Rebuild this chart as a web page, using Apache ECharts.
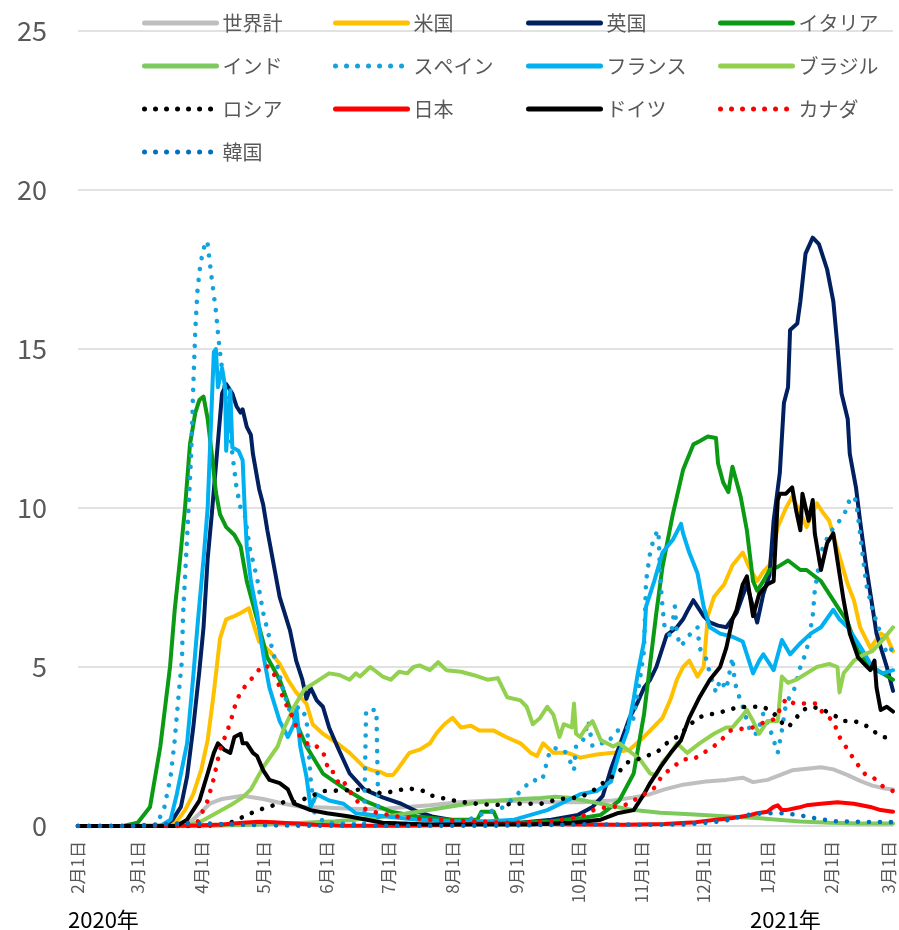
<!DOCTYPE html>
<html>
<head>
<meta charset="utf-8">
<script src="https://cdn.jsdelivr.net/npm/echarts@6/dist/echarts.min.js"></script>
<style>
  html, body { margin: 0; padding: 0; background: #fff; }
  #main { width: 899px; height: 930px; }
</style>
</head>
<body>
<div id="main"></div>
<script>
// x = days since 2020-02-01
const tickDays = [0, 29, 60, 90, 121, 151, 182, 213, 243, 274, 304, 335, 366, 394];
const tickLabels = ['2月1日', '3月1日', '4月1日', '5月1日', '6月1日', '7月1日', '8月1日', '9月1日', '10月1日', '11月1日', '12月1日', '1月1日', '2月1日', '3月1日'];
const yearLabels = ['2020年', '2021年'];

const world = [[0,0],[30,0.01],[45,0.05],[55,0.15],[60,0.45],[64,0.7],[70,0.85],[80,0.95],[90,0.85],[100,0.7],[109,0.6],[120,0.58],[130,0.55],[140,0.53],[150,0.55],[160,0.6],[171,0.65],[185,0.75],[200,0.8],[215,0.78],[230,0.75],[245,0.75],[260,0.8],[270,0.9],[278,1.0],[285,1.15],[294,1.3],[305,1.4],[315,1.45],[323,1.52],[328,1.38],[335,1.45],[341,1.6],[347,1.75],[354,1.8],[361,1.85],[367,1.78],[374,1.6],[380,1.42],[386,1.27],[392,1.18],[396,1.15]];
const usa = [[0,0],[40,0],[48,0.15],[52,0.5],[56,1.0],[60,1.8],[63,2.7],[66,4.2],[69,5.9],[72,6.5],[76,6.6],[79,6.7],[83,6.85],[85,6.4],[88,5.8],[93,5.5],[98,5.1],[102,4.6],[106,4.2],[111,3.85],[114,3.2],[119,2.9],[126,2.6],[132,2.3],[139,1.85],[143,1.75],[147,1.7],[150,1.6],[153,1.6],[156,1.85],[161,2.3],[166,2.4],[171,2.6],[174,2.9],[178,3.2],[182,3.4],[186,3.1],[191,3.15],[195,3.0],[202,3.0],[208,2.8],[215,2.6],[220,2.3],[223,2.2],[226,2.6],[231,2.3],[238,2.3],[244,2.15],[252,2.25],[260,2.3],[268,2.4],[275,2.8],[281,3.2],[284,3.4],[288,4.0],[291,4.6],[294,5.0],[297,5.2],[301,4.7],[304,5.0],[306,6.6],[309,7.2],[314,7.6],[318,8.2],[323,8.6],[326,8.15],[330,7.7],[333,8.0],[336,8.2],[340,9.4],[344,10.0],[347,10.35],[351,9.85],[354,9.4],[359,10.15],[362,9.85],[365,9.6],[369,8.7],[374,7.6],[377,7.1],[380,6.25],[385,5.6],[390,6.05],[393,5.95],[396,5.5]];
const uk = [[0,0],[42,0],[46,0.2],[50,0.6],[53,1.55],[56,3.1],[59,4.9],[61,6.25],[63,8.4],[65,9.8],[67.5,11.7],[70,13.6],[72,13.9],[75,13.6],[77,13.2],[79,13.0],[80,13.1],[82,12.55],[84,12.3],[85,11.7],[88,10.6],[90,10.1],[92,9.3],[95,8.25],[98,7.2],[103,6.15],[106,5.2],[109,4.6],[111,4.0],[113,4.35],[116,3.95],[119,3.75],[122,3.1],[126,2.5],[132,1.65],[139,1.15],[148,0.9],[157,0.7],[165,0.45],[172,0.3],[185,0.15],[200,0.1],[215,0.1],[230,0.2],[243,0.35],[250,0.6],[255,0.95],[259,1.8],[263,2.5],[268,3.4],[272,3.9],[275,4.35],[278,4.6],[281,5.0],[286,6.0],[291,6.25],[294,6.5],[296,6.75],[299,7.1],[301,6.9],[304,6.6],[307,6.4],[311,6.3],[315,6.25],[320,6.7],[325,7.6],[330,6.4],[333,7.3],[336,7.9],[338,9.6],[341,11.1],[343,13.3],[345,13.8],[346,15.6],[349.5,15.8],[351,16.5],[353.5,18.0],[357,18.5],[360,18.3],[364,17.5],[367,16.5],[369,15.1],[371,13.6],[374,12.8],[375,11.7],[378,10.65],[380,9.6],[383,8.15],[388,6.05],[393,5.0],[396,4.25]];
const italy = [[0,0],[22,0],[29,0.1],[35,0.6],[40,2.5],[44.7,5.0],[47,6.8],[49.6,8.4],[52,10.0],[54.4,12.0],[57,13.0],[59,13.4],[61,13.5],[63,12.8],[65,11.7],[67,10.5],[69,9.8],[72,9.4],[76,9.15],[79,8.8],[82,7.7],[87,6.5],[92,5.3],[98,4.6],[103,3.7],[111,2.5],[119,1.65],[129,1.2],[139,0.8],[152,0.45],[165,0.3],[180,0.2],[194,0.2],[196,0.45],[202,0.45],[204,0.15],[215,0.1],[230,0.15],[245,0.25],[254,0.35],[263,0.8],[270,1.65],[275,3.5],[278,5.1],[281,6.7],[284,8.15],[289,9.8],[294,11.2],[299,12.0],[302,12.1],[306,12.25],[310,12.2],[311,11.4],[313.5,10.8],[316,10.5],[318,11.3],[322,10.35],[325,9.3],[328,7.7],[330,7.4],[333,7.7],[336,8.05],[340,8.15],[345,8.35],[351,8.05],[354,8.05],[361,7.7],[365,7.3],[369,6.9],[374,6.4],[379,5.5],[385,5.0],[391,4.8],[396,4.6]];
const india = [[0,0],[50,0],[65,0.01],[80,0.03],[95,0.06],[110,0.1],[125,0.15],[135,0.2],[140,0.25],[147,0.28],[155,0.35],[165,0.45],[175,0.55],[185,0.65],[195,0.75],[205,0.8],[215,0.85],[225,0.88],[232,0.92],[240,0.88],[250,0.75],[260,0.62],[270,0.5],[283,0.42],[295,0.38],[310,0.32],[320,0.28],[330,0.25],[340,0.2],[351,0.14],[365,0.1],[380,0.08],[396,0.08]];
const spain = [[0,0],[38,0],[42,0.6],[45,1.55],[47,2.7],[49,4.2],[50.5,5.2],[51,6.6],[52,7.8],[53.5,9.7],[55,11.7],[56,13.8],[57,15.6],[58,16.8],[59.5,17.7],[62,18.4],[63,18.3],[65,17.2],[67,16.2],[68,15.5],[69,14.9],[70.5,14.1],[72,13.4],[75,11.7],[77,10.65],[79,10.0],[81,9.8],[83.6,8.7],[87,7.8],[90,6.7],[95,5.4],[97,5.0],[100,4.2],[103,3.6],[106,3.7],[108,3.75],[111,3.4],[113,1.5],[115,0.4],[120,0.1],[139,0.05],[140,3.65],[145,3.65],[146,0.1],[170,0.05],[185,0.1],[192,0.25],[199,0.45],[203,0.5],[207,0.6],[212,0.9],[215,1.1],[219,1.35],[221,1.35],[224,1.6],[226,1.55],[229,2.3],[231,2.45],[236,2.4],[238,2.2],[241,1.75],[242,2.5],[245,2.6],[248,3.3],[250,2.5],[254,2.6],[257,2.6],[262,3.0],[266,3.0],[270,3.4],[273,4.6],[275,5.5],[276,7.7],[278,8.6],[280,9.1],[282,9.3],[283,7.7],[284,6.9],[285,6.25],[288,5.95],[290,6.9],[291,6.0],[293,5.65],[297,6.0],[301,6.25],[302,5.6],[305,5.3],[307,4.8],[310,4.2],[312,4.6],[315,4.3],[318,5.3],[319,4.6],[320,4.3],[323,3.75],[327,2.9],[330,2.9],[333,3.55],[336,3.1],[338,2.7],[340,2.3],[342,3.0],[344,3.85],[348,4.3],[351,5.0],[354,5.5],[357,6.6],[358,7.4],[361,8.6],[365,9.2],[370,9.6],[374,10.0],[375,10.35],[378,10.25],[380,9.2],[383,7.6],[386,6.8],[390,6.05],[393,5.4],[396,5.6]];
const france = [[0,0],[40,0],[45,0.2],[48,1.0],[53,2.6],[56,4.7],[58,6.25],[61,8.4],[63,10.0],[65,13.3],[66,14.9],[67,15.0],[68,13.8],[70,14.4],[71.5,13.8],[72,11.8],[74,13.7],[75,11.9],[78,11.8],[80,11.5],[81,10.0],[82,8.8],[84,7.7],[87,6.7],[90,5.4],[93,4.35],[98,3.3],[102,2.8],[105,3.2],[106,3.75],[108,2.5],[111,1.55],[113,0.6],[116,1.0],[122,0.8],[129,0.7],[135,0.4],[150,0.3],[165,0.2],[180,0.15],[200,0.15],[212,0.2],[228,0.5],[244,1.0],[252,1.1],[259,1.4],[263,2.3],[267,3.0],[270,4.0],[272,4.8],[275,5.8],[276,6.9],[280,7.7],[284,8.6],[289,9.0],[293,9.5],[294,9.2],[297,8.6],[301,7.95],[304,6.9],[307,6.25],[312,6.05],[318,5.95],[323,5.8],[328,4.8],[331,5.2],[333,5.4],[338,4.9],[342,5.85],[346,5.4],[351,5.75],[356,6.05],[361,6.25],[367,6.8],[370,6.5],[374,6.25],[380,5.65],[386,5.0],[391,4.8],[396,4.9]];
const brazil = [[0,0],[50,0],[55,0.05],[60,0.15],[67,0.4],[74,0.65],[80,0.9],[84,1.15],[90,1.85],[97,2.5],[100,3.05],[105,3.75],[110,4.3],[116,4.55],[122,4.8],[127,4.75],[132,4.6],[135,4.8],[137,4.7],[142,5.0],[148,4.7],[152,4.6],[156,4.85],[160,4.8],[163,5.0],[166,5.05],[171,4.9],[175,5.15],[179,4.9],[186,4.85],[192,4.75],[199,4.6],[204,4.65],[208.5,4.05],[215,3.95],[218,3.75],[221,3.2],[224.5,3.4],[228,3.75],[231,3.5],[234,2.8],[236,3.2],[240,3.1],[241,3.85],[242,2.9],[244,2.8],[247,3.1],[250,3.3],[254,2.7],[260,2.5],[263,2.6],[268,2.35],[273,2.1],[278,1.65],[281,1.6],[284,2.0],[288,2.3],[291,2.6],[296,2.3],[302,2.6],[309,2.9],[315,3.1],[318,3.1],[322,3.4],[325,3.65],[328,3.3],[331,2.9],[335,3.3],[340,3.3],[342,4.7],[345,4.5],[349,4.6],[354,4.8],[359,5.0],[365,5.1],[369,5.0],[370,4.2],[372,4.8],[377,5.2],[382,5.4],[386,5.5],[391,5.85],[396,6.25]];
const russia = [[0,0],[60,0],[70,0.05],[74,0.1],[79,0.25],[84,0.4],[90,0.55],[100,0.75],[106,0.75],[112,0.9],[119,1.1],[129,1.12],[139,1.15],[148,1.02],[155,1.12],[161,1.18],[168,1.1],[171,0.97],[181,0.82],[190,0.72],[202,0.66],[213,0.7],[225,0.7],[234,0.85],[244,0.9],[250,1.1],[257,1.45],[262,1.65],[267,2.0],[272,2.1],[276,2.2],[281,2.3],[286,2.6],[291,2.8],[296,3.1],[301,3.4],[306,3.5],[311,3.55],[316,3.65],[320,3.72],[325,3.75],[333,3.75],[338,3.55],[341,3.3],[345,3.1],[349,3.4],[352,3.65],[357,3.75],[362,3.65],[367,3.5],[372,3.3],[377,3.3],[382,3.2],[386,3.0],[391,2.8],[396,2.75]];
const japan = [[0,0],[40,0],[50,0.01],[60,0.02],[70,0.05],[80,0.1],[88,0.13],[95,0.12],[105,0.08],[115,0.04],[130,0.01],[160,0.01],[180,0.03],[195,0.07],[210,0.08],[225,0.06],[245,0.05],[265,0.04],[285,0.06],[300,0.12],[310,0.2],[318,0.25],[325,0.32],[330,0.4],[335,0.45],[338,0.6],[340,0.65],[342,0.5],[344,0.5],[350,0.58],[354,0.65],[361,0.7],[369,0.75],[377,0.7],[385,0.6],[390,0.5],[396,0.45]];
const germany = [[0,0],[48,0],[53,0.2],[59,0.8],[63,1.65],[66,2.3],[68,2.6],[71,2.4],[74,2.3],[76,2.8],[79,2.9],[80,2.6],[82,2.6],[85,2.3],[87,2.2],[90,1.75],[93,1.45],[98,1.35],[102,1.15],[105,0.7],[113,0.5],[121,0.4],[132,0.3],[148,0.1],[170,0.05],[220,0.05],[240,0.1],[254,0.2],[262,0.4],[270,0.5],[275,1.0],[278,1.35],[283,1.85],[288,2.3],[293,2.7],[297,3.4],[302,4.05],[307,4.6],[312,5.0],[315,5.6],[318,6.5],[320,6.8],[323,7.6],[325,7.85],[328,6.6],[331,7.3],[335,7.6],[338,7.7],[340,10.25],[341,10.45],[344,10.45],[347,10.65],[349,9.9],[351,9.3],[352,10.45],[355,9.6],[357,10.25],[358,9.2],[361,8.05],[364,8.9],[367,9.2],[369,8.35],[372,7.1],[375,6.05],[379,5.3],[382,5.1],[385,4.9],[387,5.2],[388,4.35],[390,3.65],[393,3.75],[396,3.6]];
const canada = [[0,0],[50,0],[58,0.1],[63,0.8],[66,1.5],[69,2.4],[72,2.9],[74,3.25],[77,3.95],[80,4.3],[84,4.6],[87,4.85],[90,5.05],[93,5.0],[95,4.8],[97,4.55],[100,3.95],[103,3.6],[105,3.3],[108,2.8],[113,2.5],[116,2.5],[119,2.35],[122,1.7],[124,1.7],[127,1.3],[129,1.4],[134,0.9],[139,0.55],[145,0.42],[155,0.3],[170,0.2],[190,0.15],[210,0.1],[230,0.15],[244,0.28],[252,0.55],[260,0.6],[267,0.68],[270,0.8],[275,1.0],[280,1.2],[284,1.6],[289,1.85],[294,2.1],[299,2.1],[304,2.3],[311,2.6],[317,3.0],[322,3.05],[328,3.1],[333,3.25],[338,3.35],[341,3.65],[344,4.0],[348,3.85],[354,3.85],[359,3.85],[362,3.55],[367,3.3],[370,2.8],[374,2.4],[377,2.1],[382,1.65],[386,1.55],[391,1.25],[396,1.1]];
const korea = [[0,0],[25,0],[30,0.02],[40,0.05],[50,0.08],[60,0.09],[70,0.06],[85,0.03],[110,0.01],[150,0.01],[200,0.01],[225,0.03],[245,0.05],[275,0.04],[295,0.05],[305,0.1],[312,0.15],[317,0.2],[322,0.3],[328,0.38],[335,0.4],[344,0.4],[350,0.34],[354,0.3],[360,0.22],[368,0.15],[380,0.13],[396,0.12]];

const FONT = '"Noto Sans CJK JP", "Noto Sans", sans-serif';

// name, data, colour, dotted
const seriesDefs = [
    ['世界計', world, '#BFBFBF', false],
    ['米国', usa, '#FFC000', false],
    ['英国', uk, '#002060', false],
    ['イタリア', italy, '#0A9A14', false],
    ['インド', india, '#7CC95E', false],
    ['スペイン', spain, '#12A2DE', true],
    ['フランス', france, '#00B0F0', false],
    ['ブラジル', brazil, '#92D050', false],
    ['ロシア', russia, '#000000', true],
    ['日本', japan, '#FF0000', false],
    ['ドイツ', germany, '#000000', false],
    ['カナダ', canada, '#FF0000', true],
    ['韓国', korea, '#0070C0', true]
];

const series = seriesDefs.map(([name, data, color, dotted]) => ({
    name: name,
    type: 'line',
    data: data,
    symbol: 'none',
    showSymbol: false,
    animation: false,
    itemStyle: {color: color},
    lineStyle: dotted
        ? {color: color, width: 4.6, type: [0.01, 11], cap: 'round'}
        : {color: color, width: 4, cap: 'round', join: 'round'}
}));

// legend columns, 4 across
const legendCols = [
    ['世界計', 'インド', 'ロシア', '韓国'],
    ['米国', 'スペイン', '日本'],
    ['英国', 'フランス', 'ドイツ'],
    ['イタリア', 'ブラジル', 'カナダ']
];
const legendLeft = [142, 333, 526, 718];

const legends = legendCols.map((names, i) => ({
    data: names,
    orient: 'vertical',
    left: legendLeft[i],
    top: 13,
    padding: 0,
    itemWidth: 72,
    itemHeight: 20,
    itemGap: 23,
    selectedMode: false,
    itemStyle: {opacity: 0},   // hide the round marker, keep the line
    lineStyle: {width: 5},
    textStyle: {fontSize: 20, color: '#595959', fontFamily: FONT, padding: [0, 0, 0, 1]}
}));

const chart = echarts.init(document.getElementById('main'), null, {renderer: 'canvas'});
chart.setOption({
    backgroundColor: '#fff',
    animation: false,
    legend: legends,
    grid: {left: 78, right: 6, top: 31, bottom: 104},
    xAxis: {
        type: 'value',
        min: 0,
        max: 396,
        splitLine: {show: false},
        axisLine: {show: true, lineStyle: {color: '#D9D9D9', width: 1.5}},
        axisTick: {show: false, customValues: tickDays},
        axisLabel: {
            customValues: tickDays,
            rotate: 90,
            margin: 15,
            fontSize: 17,
            color: '#595959',
            fontFamily: FONT,
            formatter: v => tickLabels[tickDays.indexOf(v)] || ''
        }
    },
    yAxis: {
        type: 'value',
        min: 0,
        max: 25,
        interval: 5,
        axisLine: {show: false},
        axisTick: {show: false},
        splitLine: {lineStyle: {color: '#D9D9D9', width: 1.5}},
        axisLabel: {fontSize: 27, color: '#595959', margin: 31, fontFamily: FONT}
    },
    graphic: [
        {type: 'text', left: 68, top: 909, style: {text: yearLabels[0], fontSize: 22, fill: '#000', fontFamily: FONT}},
        {type: 'text', left: 750, top: 909, style: {text: yearLabels[1], fontSize: 22, fill: '#000', fontFamily: FONT}}
    ],
    series: series
});
</script>
</body>
</html>
